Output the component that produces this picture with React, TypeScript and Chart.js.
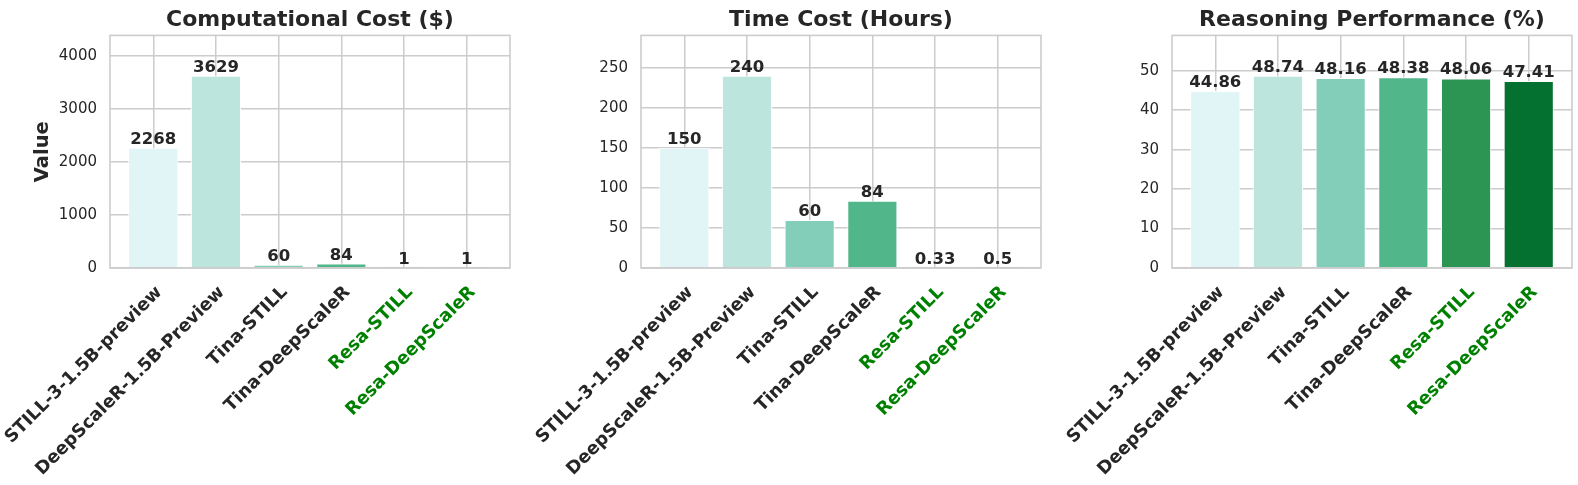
import React, { useEffect, useRef } from "react";
import { Chart, registerables } from "chart.js";

Chart.register(...registerables);

// ---------- data ----------
const MODELS = [
  "STILL-3-1.5B-preview",
  "DeepScaleR-1.5B-Preview",
  "Tina-STILL",
  "Tina-DeepScaleR",
  "Resa-STILL",
  "Resa-DeepScaleR",
];
const HIGHLIGHTED = ["Resa-STILL", "Resa-DeepScaleR"];
const COMPUTE_COST = [2268, 3629, 60, 84, 1, 1];
const TIME_COST = [150, 240, 60, 84, 0.33, 0.5];
const PERFORMANCE = [44.86, 48.74, 48.16, 48.38, 48.06, 47.41];
const TITLES = ["Computational Cost ($)", "Time Cost (Hours)", "Reasoning Performance (%)"];
const Y_STEPS = [1000, 50, 10];

// ---------- styles ----------
const FONT = "'DejaVu Sans', 'Liberation Sans', sans-serif";
const TEXT = "#262626";
const GREEN = "#008000";
const GRID = "#cccccc";
const BAR_COLORS = ["#e1f4f6", "#bce5dd", "#83ceb9", "#51b68a", "#2c9553", "#057130"];
const X_MIN = -0.69;
const X_MAX = 5.69;
const HEADROOM = 1.21;

type PanelSpec = {
  title: string;
  values: number[];
  step: number;
  format: (v: number) => string;
  yTitle?: string;
  left: number;
  width: number;
  axisWidth: number;
  padRight: number;
};

const PANELS: PanelSpec[] = [
  { title: TITLES[0], values: COMPUTE_COST, step: Y_STEPS[0], format: (v) => String(v), yTitle: "Value", left: 0, width: 520, axisWidth: 110, padRight: 10 },
  { title: TITLES[1], values: TIME_COST, step: Y_STEPS[1], format: (v) => String(v), left: 520, width: 525, axisWidth: 121, padRight: 4 },
  { title: TITLES[2], values: PERFORMANCE, step: Y_STEPS[2], format: (v) => v.toFixed(2), left: 1045, width: 533, axisWidth: 127, padRight: 6 },
];

const HEIGHT = 485;
const X_AXIS_HEIGHT = 217;

function Panel({ spec }: { spec: PanelSpec }) {
  const ref = useRef<HTMLCanvasElement | null>(null);

  useEffect(() => {
    if (!ref.current) return;
    const labels = spec.values.map(spec.format);
    const yMax = Math.max(...spec.values) * HEADROOM;
    const decor = {
      id: "decor",
      afterDatasetsDraw(chart: any) {
        const { ctx, chartArea: a } = chart;
        ctx.save();
        ctx.strokeStyle = GRID;
        ctx.lineWidth = 1.6;
        ctx.strokeRect(a.left, a.top, a.right - a.left, a.bottom - a.top);
        const meta = chart.getDatasetMeta(0);
        ctx.fillStyle = TEXT;
        ctx.font = `bold 16.5px ${FONT}`;
        ctx.textAlign = "center";
        ctx.textBaseline = "alphabetic";
        meta.data.forEach((bar: any, i: number) => {
          ctx.fillText(labels[i], bar.x, bar.y - 4);
        });
        ctx.restore();
      },
    };

    const chart = new Chart(ref.current, {
      type: "bar",
      data: {
        datasets: [
          {
            data: spec.values.map((v, i) => ({ x: i, y: v })),
            backgroundColor: BAR_COLORS,
            borderColor: "#ffffff",
            borderWidth: 1,
            barPercentage: 0.8,
            categoryPercentage: 1.0,
          },
        ],
      },
      options: {
        animation: false,
        responsive: false,
        events: [],
        devicePixelRatio: 1,
        layout: { padding: { left: 0, right: spec.padRight, top: 0, bottom: 0 } },
        plugins: {
          legend: { display: false },
          tooltip: { enabled: false },
          title: {
            display: true,
            text: spec.title,
            color: TEXT,
            fullSize: false,
            font: { family: FONT, size: 22, weight: "bold" },
            padding: { top: 7, bottom: 2 },
          },
        },
        scales: {
          x: {
            type: "linear",
            offset: false,
            min: X_MIN,
            max: X_MAX,
            afterBuildTicks: (s: any) => {
              s.ticks = MODELS.map((_, i) => ({ value: i }));
            },
            afterFit: (s: any) => {
              s.height = X_AXIS_HEIGHT;
              s.paddingLeft = 0;
              s.paddingRight = 0;
            },
            grid: { color: GRID, lineWidth: 1.5, drawTicks: false, offset: false },
            border: { display: false },
            ticks: {
              autoSkip: false,
              maxRotation: 45,
              minRotation: 45,
              padding: 14,
              labelOffset: 6,
              font: { family: FONT, size: 17.8, weight: "bold" },
              color: (ctx: any) => (HIGHLIGHTED.includes(MODELS[ctx.index]) ? GREEN : TEXT),
              callback: (v: any) => MODELS[v as number] ?? "",
            },
          },
          y: {
            type: "linear",
            min: 0,
            max: yMax,
            afterBuildTicks: (s: any) => {
              const t: { value: number }[] = [];
              for (let v = 0; v <= yMax; v += spec.step) t.push({ value: v });
              s.ticks = t;
            },
            afterFit: (s: any) => {
              s.width = spec.axisWidth;
            },
            grid: { color: GRID, lineWidth: 1.5, drawTicks: false },
            border: { display: false },
            ticks: {
              padding: 13,
              color: TEXT,
              font: { family: FONT, size: 15 },
              callback: (v: any) => String(v),
            },
            title: {
              display: !!spec.yTitle,
              text: spec.yTitle || "",
              color: TEXT,
              font: { family: FONT, size: 19.5, weight: "bold" },
              padding: { top: 31, bottom: 0 },
            },
          },
        },
      } as any,
      plugins: [decor],
    });
    return () => chart.destroy();
  }, [spec]);

  return (
    <canvas
      ref={ref}
      width={spec.width}
      height={HEIGHT}
      style={{ position: "absolute", left: spec.left, top: 0, width: spec.width, height: HEIGHT }}
    />
  );
}

export default function App() {
  return (
    <div style={{ position: "absolute", left: 0, top: 0, width: 1578, height: HEIGHT, background: "#ffffff" }}>
      {PANELS.map((p) => (
        <Panel key={p.title} spec={p} />
      ))}
    </div>
  );
}
